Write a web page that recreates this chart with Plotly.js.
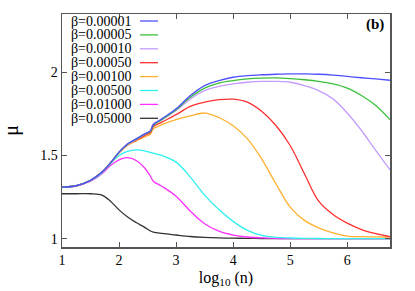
<!DOCTYPE html>
<html>
<head>
<meta charset="utf-8">
<script src="https://cdn.plot.ly/plotly-3.0.1.min.js"></script>
<style>html,body{margin:0;padding:0;background:#fff;}#chart{width:415px;height:291px;}</style>
</head>
<body>
<div id="chart"></div>
<script>
// log10(n) grid
const logN = [1, 1.25, 1.5, 1.7, 1.85, 2.0, 2.15, 2.3, 2.45, 2.55, 2.6, 2.75, 3.0, 3.25, 3.5, 3.75, 4.0, 4.25, 4.5, 4.75, 5.0, 5.25, 5.5, 5.75, 6.0, 6.25, 6.5, 6.75];

const betaLabels = ["β=0.00001", "β=0.00005", "β=0.00010", "β=0.00050", "β=0.00100", "β=0.00500", "β=0.01000", "β=0.05000"];
const betaColors = ["#4f4fff", "#3cc03c", "#c39cff", "#ff3030", "#ffb030", "#2ff0f0", "#ff30ff", "#333333"];

const mu_b00001 = [1.31, 1.318, 1.35, 1.40, 1.455, 1.52, 1.57, 1.60, 1.63, 1.648, 1.685, 1.72, 1.78, 1.86, 1.92, 1.95, 1.97, 1.98, 1.985, 1.988, 1.99, 1.99, 1.988, 1.983, 1.975, 1.967, 1.96, 1.952];
const mu_b00005 = [1.31, 1.318, 1.35, 1.40, 1.455, 1.52, 1.568, 1.598, 1.628, 1.645, 1.68, 1.715, 1.775, 1.85, 1.905, 1.935, 1.95, 1.96, 1.965, 1.966, 1.962, 1.955, 1.945, 1.93, 1.905, 1.86, 1.80, 1.715];
const mu_b00010 = [1.31, 1.318, 1.35, 1.40, 1.455, 1.518, 1.565, 1.595, 1.628, 1.648, 1.69, 1.715, 1.77, 1.84, 1.89, 1.915, 1.93, 1.94, 1.945, 1.945, 1.94, 1.92, 1.89, 1.84, 1.755, 1.65, 1.53, 1.414];
const mu_b00050 = [1.31, 1.318, 1.35, 1.40, 1.455, 1.518, 1.565, 1.592, 1.62, 1.638, 1.672, 1.70, 1.745, 1.795, 1.82, 1.835, 1.838, 1.82, 1.765, 1.68, 1.56, 1.39, 1.225, 1.145, 1.093, 1.055, 1.03, 1.012];
const mu_b00100 = [1.31, 1.318, 1.35, 1.40, 1.455, 1.515, 1.56, 1.588, 1.612, 1.628, 1.66, 1.685, 1.715, 1.738, 1.755, 1.728, 1.678, 1.60, 1.48, 1.33, 1.19, 1.11, 1.065, 1.035, 1.016, 1.012, 1.011, 1.01];
const mu_b00500 = [1.31, 1.318, 1.348, 1.395, 1.45, 1.50, 1.525, 1.533, 1.528, 1.518, 1.514, 1.50, 1.46, 1.37, 1.262, 1.175, 1.104, 1.05, 1.02, 1.008, 1.004, 1.002, 1.001, 1.0, 1.0, 1.0, 1.0, 1.0];
const mu_b01000 = [1.31, 1.316, 1.345, 1.39, 1.44, 1.474, 1.487, 1.47, 1.425, 1.375, 1.345, 1.315, 1.255, 1.165, 1.09, 1.045, 1.022, 1.01, 1.005, 1.002, 1.0, 1.0, 1.0, 1.0, 1.0, 1.0, 1.0, 1.0];
const mu_b05000 = [1.27, 1.27, 1.27, 1.262, 1.225, 1.173, 1.13, 1.097, 1.068, 1.046, 1.04, 1.032, 1.022, 1.013, 1.008, 1.005, 1.003, 1.002, 1.001, 1.0, 1.0, 1.0, 1.0, 1.0, 1.0, 1.0, 1.0, 1.0];

const series = [mu_b00001, mu_b00005, mu_b00010, mu_b00050, mu_b00100, mu_b00500, mu_b01000, mu_b05000];

const xTicks = [1, 2, 3, 4, 5, 6];
const yTicks = [1, 1.5, 2];
const yTickText = ["1", "1.5", "2"];

// draw order: back to front so blue ends on top
const order = [7, 6, 5, 4, 3, 2, 1, 0];
const traces = order.map(i => ({
  x: logN, y: series[i], type: 'scatter', mode: 'lines', name: betaLabels[i],
  line: {color: betaColors[i], width: 1.3, shape: 'spline', smoothing: 1},
  showlegend: false, hoverinfo: 'skip'
}));

const serifFont = "Liberation Serif";
const L = 62, R = 390, T = 14, B = 247;
const W = 415, H = 291;
const pw = R - L, ph = B - T;
const px = v => (v - L) / pw;
const py = v => 1 - (v - T) / ph;

const annotations = [];
const shapes = [];
betaLabels.forEach((lab, i) => {
  const rowY = 21 + i * 13.9;
  annotations.push({xref: 'paper', yref: 'paper', x: px(134), y: py(rowY), xanchor: 'right', yanchor: 'middle',
    text: lab, showarrow: false, font: {family: serifFont, size: 14, color: '#000'}});
  shapes.push({type: 'line', xref: 'paper', yref: 'paper', x0: px(140), x1: px(158), y0: py(rowY), y1: py(rowY),
    line: {color: betaColors[i], width: 1.3}});
});
annotations.push({xref: 'paper', yref: 'paper', x: px(386), y: py(25), xanchor: 'right', yanchor: 'middle',
  text: '<b>(b)</b>', showarrow: false, font: {family: serifFont, size: 15, color: '#000'}});

const layout = {
  width: W, height: H,
  margin: {l: L, r: W - R, t: T, b: H - B, pad: 0},
  paper_bgcolor: '#fff', plot_bgcolor: '#fff',
  font: {family: serifFont, size: 14, color: '#000'},
  xaxis: {
    range: [1, 6.75], tickvals: xTicks, ticktext: xTicks.map(String),
    ticks: 'inside', ticklen: 5, tickcolor: '#555', tickwidth: 1,
    showline: true, mirror: 'ticks', linecolor: '#555', linewidth: 1.5,
    showgrid: false, zeroline: false,
    tickfont: {family: serifFont, size: 14},
    title: {text: 'log<sub>10</sub> (n)', font: {family: serifFont, size: 16}, standoff: 4}
  },
  yaxis: {
    range: [0.95, 2.35], tickvals: yTicks, ticktext: yTickText,
    ticks: 'inside', ticklen: 5, tickcolor: '#555', tickwidth: 1,
    showline: true, mirror: 'ticks', linecolor: '#555', linewidth: 1.5,
    showgrid: false, zeroline: false,
    tickfont: {family: serifFont, size: 14},
    title: {text: 'μ', font: {family: serifFont, size: 20}, standoff: 16}
  },
  annotations: annotations,
  shapes: shapes
};

Plotly.newPlot('chart', traces, layout, {staticPlot: true, displayModeBar: false});
</script>
</body>
</html>
